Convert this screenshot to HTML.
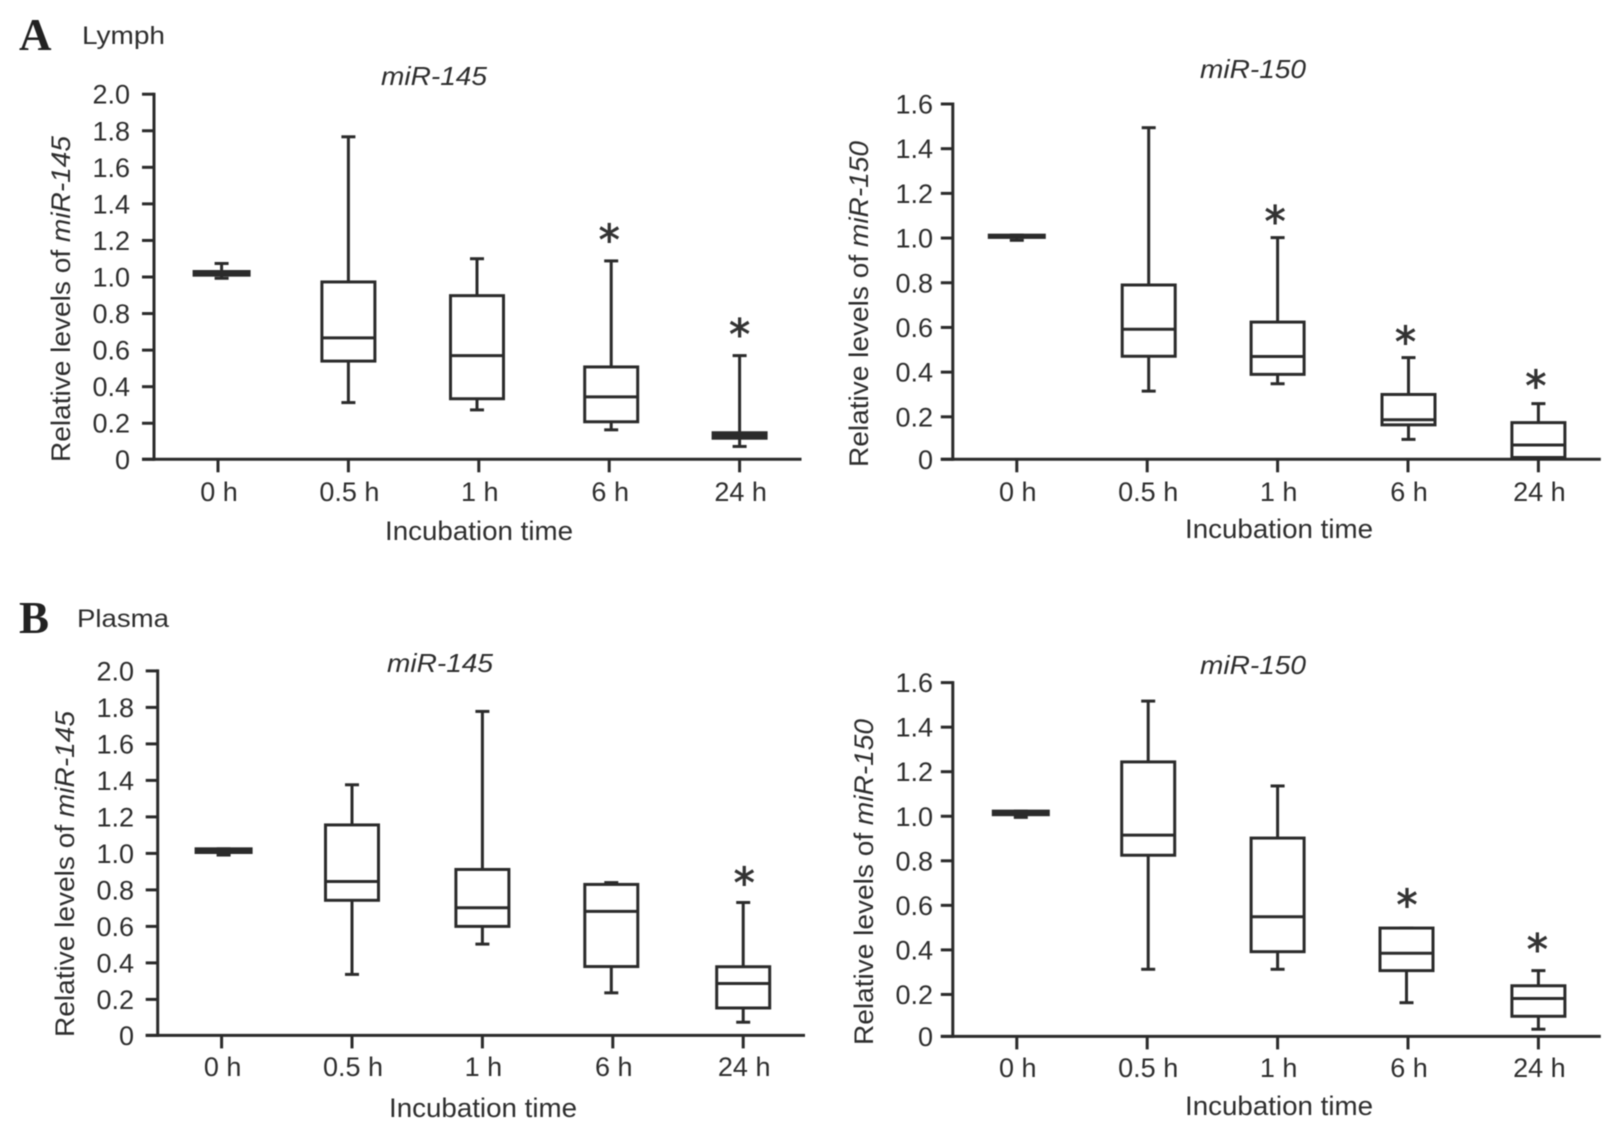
<!DOCTYPE html>
<html lang="en">
<head>
<meta charset="utf-8">
<title>miR-145 and miR-150 levels by incubation time</title>
<style>
html,body{margin:0;padding:0;background:#fff;}
#figure{display:block;width:1616px;height:1135px;filter:blur(0.55px);}
text{font-family:"Liberation Sans",sans-serif;fill:#2e2e2e;}
.big{font-family:"Liberation Serif",serif;font-weight:bold;font-size:45px;fill:#222;}
.pan{font-size:25px;}
.lab{font-size:27px;}
.ttl{font-size:26px;font-style:italic;}
.tick{font-size:27px;}
.star{font-family:"DejaVu Sans",sans-serif;font-size:42px;fill:#333;stroke:#333;stroke-width:0.9px;text-anchor:middle;}
</style>
</head>
<body>
<svg id="figure" xmlns="http://www.w3.org/2000/svg" width="1616" height="1135" viewBox="0 0 1616 1135">
  <rect x="0" y="0" width="1616" height="1135" fill="#fff"/>

  <text class="big" x="19" y="50">A</text>
  <text class="pan" x="82" y="44" textLength="83" lengthAdjust="spacingAndGlyphs">Lymph</text>
  <text class="big" x="19" y="633">B</text>
  <text class="pan" x="77" y="627" textLength="92" lengthAdjust="spacingAndGlyphs">Plasma</text>

  <text class="ttl" x="381" y="85" textLength="106" lengthAdjust="spacingAndGlyphs">miR-145</text>
  <text class="ttl" x="1200" y="78" textLength="106" lengthAdjust="spacingAndGlyphs">miR-150</text>
  <text class="ttl" x="387" y="672" textLength="106" lengthAdjust="spacingAndGlyphs">miR-145</text>
  <text class="ttl" x="1200" y="674" textLength="106" lengthAdjust="spacingAndGlyphs">miR-150</text>

  <text class="lab" transform="translate(70,462) rotate(-90)" textLength="326" lengthAdjust="spacingAndGlyphs">Relative levels of <tspan font-style="italic">miR-145</tspan></text>
  <text class="lab" transform="translate(868,467) rotate(-90)" textLength="326" lengthAdjust="spacingAndGlyphs">Relative levels of <tspan font-style="italic">miR-150</tspan></text>
  <text class="lab" transform="translate(74,1037) rotate(-90)" textLength="326" lengthAdjust="spacingAndGlyphs">Relative levels of <tspan font-style="italic">miR-145</tspan></text>
  <text class="lab" transform="translate(873,1045) rotate(-90)" textLength="326" lengthAdjust="spacingAndGlyphs">Relative levels of <tspan font-style="italic">miR-150</tspan></text>

  <text class="lab" x="385" y="540" textLength="188" lengthAdjust="spacingAndGlyphs">Incubation time</text>
  <text class="lab" x="1185" y="538" textLength="188" lengthAdjust="spacingAndGlyphs">Incubation time</text>
  <text class="lab" x="389" y="1117" textLength="188" lengthAdjust="spacingAndGlyphs">Incubation time</text>
  <text class="lab" x="1185" y="1115" textLength="188" lengthAdjust="spacingAndGlyphs">Incubation time</text>
</svg>

<script>
const categories = ['0 h', '0.5 h', '1 h', '6 h', '24 h'];
const ticks145 = [0, 0.2, 0.4, 0.6, 0.8, 1.0, 1.2, 1.4, 1.6, 1.8, 2.0];
const tickLabels145 = ['0', '0.2', '0.4', '0.6', '0.8', '1.0', '1.2', '1.4', '1.6', '1.8', '2.0'];
const ticks150 = [0, 0.2, 0.4, 0.6, 0.8, 1.0, 1.2, 1.4, 1.6];
const tickLabels150 = ['0', '0.2', '0.4', '0.6', '0.8', '1.0', '1.2', '1.4', '1.6'];

const lymph145Hi  = [1.074, 1.767, 1.100, 1.088, 0.570];
const lymph145Q3  = [1.030, 0.973, 0.898, 0.508, 0.148];
const lymph145Med = [1.020, 0.667, 0.570, 0.344, 0.133];
const lymph145Q1  = [1.010, 0.540, 0.334, 0.208, 0.118];
const lymph145Lo  = [0.993, 0.313, 0.273, 0.164, 0.073];
const lymph145Stars = [null, null, null, 1.236, 0.717];

const lymph150Hi  = [1.013, 1.494, 1.002, 0.465, 0.259];
const lymph150Q3  = [1.013, 0.790, 0.624, 0.300, 0.174];
const lymph150Med = [1.008, 0.592, 0.470, 0.187, 0.074];
const lymph150Q1  = [1.003, 0.471, 0.390, 0.164, 0.018];
const lymph150Lo  = [0.990, 0.315, 0.348, 0.099, 0.013];
const lymph150Stars = [null, null, 1.102, 0.562, 0.365];

const plasma145Hi  = [1.025, 1.376, 1.778, 0.840, 0.731];
const plasma145Q3  = [1.025, 1.156, 0.912, 0.830, 0.379];
const plasma145Med = [1.015, 0.846, 0.702, 0.682, 0.287];
const plasma145Q1  = [1.005, 0.743, 0.600, 0.380, 0.153];
const plasma145Lo  = [0.991, 0.337, 0.503, 0.236, 0.075];
const plasma145Stars = [null, null, null, null, 0.872];

const plasma150Hi  = [1.023, 1.517, 1.136, 0.498, 0.307];
const plasma150Q3  = [1.023, 1.244, 0.902, 0.498, 0.239];
const plasma150Med = [1.015, 0.915, 0.549, 0.385, 0.182];
const plasma150Q1  = [1.007, 0.825, 0.392, 0.307, 0.102];
const plasma150Lo  = [0.995, 0.313, 0.313, 0.163, 0.044];
const plasma150Stars = [null, null, null, 0.629, 0.428];

const SVG_NS = 'http://www.w3.org/2000/svg';
const svg = document.getElementById('figure');
const INK = '#2b2b2b';

function mk(tag, attrs, parent) {
  const el = document.createElementNS(SVG_NS, tag);
  for (const k in attrs) el.setAttribute(k, attrs[k]);
  parent.appendChild(el);
  return el;
}

function drawPanel(name, g, tickVals, tickLabs, hi, q3, med, q1, lo, stars) {
  const yScale = v => g.zero - (v / g.max) * (g.zero - g.top);
  const xScale = i => g.x0 + i * g.step;
  const tickY = v => (v === 0 ? g.base : yScale(v));

  const panel = mk('g', {}, svg);
  
  

  const yAxis = mk('line', {x1: g.axis, x2: g.axis, y1: yScale(g.max) - 1.5, y2: g.base + 1.5, stroke: INK, 'stroke-width': 3}, panel);
  
  

  const xAxis = mk('line', {x1: g.axis - 12, x2: g.right, y1: g.base, y2: g.base, stroke: INK, 'stroke-width': 3}, panel);
  
  

  tickVals.forEach((v, i) => {
    const t = mk('line', {x1: g.axis - 12, x2: g.axis, y1: tickY(v), y2: tickY(v), stroke: INK, 'stroke-width': 3}, panel);
    
    
    const l = mk('text', {x: g.labelRight, y: tickY(v) + 9.5, 'text-anchor': 'end', class: 'tick'}, panel);
    
    
    l.textContent = tickLabs[i];
  });

  categories.forEach((c, i) => {
    const tx = xScale(i);
    const t = mk('line', {x1: tx, x2: tx, y1: g.base, y2: g.base + 13, stroke: INK, 'stroke-width': 3}, panel);
    
    
    const l = mk('text', {x: tx + 1, y: g.catY, 'text-anchor': 'middle', class: 'tick'}, panel);
    
    
    l.textContent = c;

    const cx = tx + (g.nudge[i] || 0);
    const half = i === 0 ? 27.5 : 26.5;
    const box = mk('g', {}, panel);
    
    

    const w1 = mk('line', {x1: cx, x2: cx, y1: yScale(hi[i]), y2: yScale(q3[i]), stroke: INK, 'stroke-width': 3}, box);
    
    
    const w2 = mk('line', {x1: cx, x2: cx, y1: yScale(q1[i]), y2: yScale(lo[i]), stroke: INK, 'stroke-width': 3}, box);
    
    
    const c1 = mk('line', {x1: cx - 7, x2: cx + 7, y1: yScale(hi[i]), y2: yScale(hi[i]), stroke: INK, 'stroke-width': 3}, box);
    
    
    const c2 = mk('line', {x1: cx - 7, x2: cx + 7, y1: yScale(lo[i]), y2: yScale(lo[i]), stroke: INK, 'stroke-width': 3}, box);
    
    
    const r = mk('rect', {x: cx - half, width: half * 2, y: yScale(q3[i]), height: Math.max(0, yScale(q1[i]) - yScale(q3[i])), fill: '#fff', stroke: INK, 'stroke-width': 3}, box);
    
    
    const m = mk('line', {x1: cx - half, x2: cx + half, y1: yScale(med[i]), y2: yScale(med[i]), stroke: INK, 'stroke-width': 3}, box);
    
    

    if (stars[i] !== null) {
      const s = mk('text', {x: tx + g.starShift, y: yScale(stars[i]) + 20.5, class: 'star'}, panel);
      
      
      s.textContent = '*';
    }
  });
}

drawPanel('lymph-145',
  {axis: 154, right: 801.5, top: 94.2, zero: 459.8, base: 459.3, max: 2.0, x0: 218, step: 130.4, labelRight: 130, catY: 501, nudge: {0: 3.6, 2: -1.8, 3: 2}, starShift: 0},
  ticks145, tickLabels145, lymph145Hi, lymph145Q3, lymph145Med, lymph145Q1, lymph145Lo, lymph145Stars);
drawPanel('lymph-150',
  {axis: 952.8, right: 1600.8, top: 104, zero: 461.5, base: 459.3, max: 1.6, x0: 1016.8, step: 130.4, labelRight: 933, catY: 501, nudge: {1: 1.5, 3: 0.5}, starShift: -2.5},
  ticks150, tickLabels150, lymph150Hi, lymph150Q3, lymph150Med, lymph150Q1, lymph150Lo, lymph150Stars);
drawPanel('plasma-145',
  {axis: 157.7, right: 805, top: 670.9, zero: 1035.9, base: 1035.4, max: 2.0, x0: 221.6, step: 130.4, labelRight: 134, catY: 1076, nudge: {0: 2, 3: -1.5}, starShift: 1},
  ticks145, tickLabels145, plasma145Hi, plasma145Q3, plasma145Med, plasma145Q1, plasma145Lo, plasma145Stars);
drawPanel('plasma-150',
  {axis: 952.8, right: 1600.8, top: 682.6, zero: 1039, base: 1036.4, max: 1.6, x0: 1016.8, step: 130.4, labelRight: 933, catY: 1077, nudge: {0: 4, 1: 1, 3: -1.5}, starShift: -1},
  ticks150, tickLabels150, plasma150Hi, plasma150Q3, plasma150Med, plasma150Q1, plasma150Lo, plasma150Stars);
</script>
</body>
</html>
